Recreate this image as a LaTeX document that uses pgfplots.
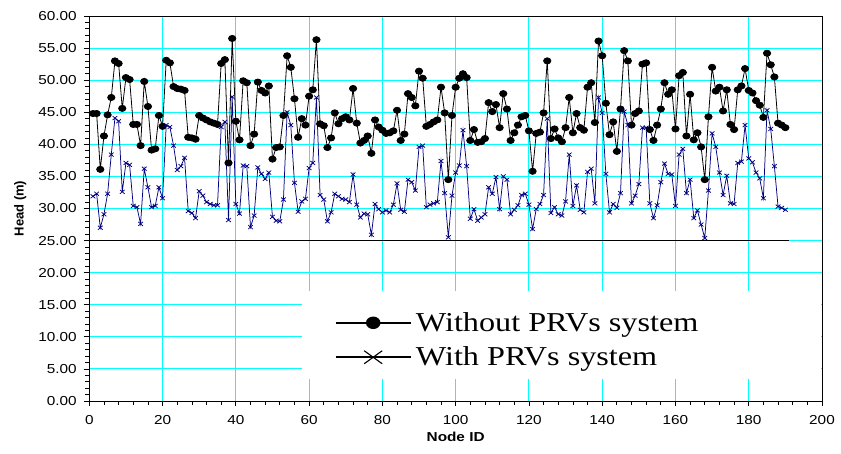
\documentclass[border=0pt]{standalone}
\usepackage{pgfplots}
\pgfplotsset{compat=1.18}
\usepackage{pgfplotstable}
\usepackage{fontspec}
\setmainfont{Liberation Sans}[FakeStretch=1.18]
\newfontfamily\ylabfont{Liberation Sans}
\newfontfamily\legfont{Liberation Serif}[FakeStretch=1.18]
\definecolor{gridc}{RGB}{0,255,255}
\definecolor{navyc}{RGB}{0,0,128}

\pgfplotstableread{
n without with
1 44.8 31.9
2 44.8 32.3
3 36.1 27.0
4 41.3 29.1
5 44.6 32.3
6 47.3 38.4
7 53.0 44.1
8 52.6 43.6
9 45.6 32.6
10 50.4 37.1
11 50.1 36.8
12 43.1 30.4
13 43.1 30.2
14 39.8 27.6
15 49.8 36.2
16 45.9 33.3
17 39.1 30.2
18 39.3 30.4
19 44.5 33.3
20 42.8 31.6
21 53.1 43.0
22 52.7 42.7
23 49.0 39.8
24 48.7 36.0
25 48.6 36.6
26 48.4 37.9
27 41.1 29.6
28 41.0 29.3
29 40.8 28.5
30 44.5 32.7
31 44.1 32.0
32 43.8 31.0
33 43.5 30.7
34 43.3 30.5
35 43.1 30.5
36 52.6 42.7
37 53.2 43.5
38 37.1 28.2
39 56.5 47.4
40 43.6 30.7
41 40.7 29.2
42 49.9 36.7
43 49.6 36.6
44 39.8 27.1
45 41.6 28.9
46 49.7 36.4
47 48.4 35.4
48 48.0 34.6
49 49.1 35.6
50 37.7 28.7
51 39.5 28.1
52 39.6 28.0
53 44.5 31.4
54 53.8 45.0
55 52.0 43.0
56 47.1 34.0
57 41.1 29.5
58 44.0 31.1
59 43.0 31.5
60 47.5 36.3
61 48.5 37.1
62 56.3 47.3
63 43.2 32.1
64 42.9 31.4
65 39.5 28.0
66 41.0 29.4
67 44.9 32.3
68 43.2 31.9
69 44.0 31.5
70 44.3 31.4
71 43.8 31.0
72 48.7 35.3
73 43.3 30.6
74 40.2 28.6
75 40.6 29.2
76 41.3 29.1
77 38.6 25.9
78 43.8 30.7
79 42.7 29.9
80 42.2 29.4
81 41.7 29.7
82 41.8 29.4
83 42.1 30.6
84 45.3 33.9
85 40.6 29.8
86 41.6 29.5
87 47.9 34.5
88 47.3 34.1
89 46.0 32.8
90 51.4 39.6
91 50.3 39.8
92 42.8 30.2
93 43.1 30.6
94 43.5 30.8
95 43.8 31.0
96 48.9 37.4
97 44.9 32.4
98 34.5 25.5
99 44.5 32.0
100 48.9 35.6
101 50.3 36.7
102 51.0 42.2
103 50.4 36.6
104 40.6 28.4
105 42.3 29.9
106 40.3 28.1
107 40.4 28.6
108 40.9 29.1
109 46.5 33.3
110 45.1 32.3
111 46.2 34.9
112 42.6 29.9
113 47.9 35.0
114 45.5 34.5
115 40.6 29.1
116 41.8 29.8
117 43.0 30.5
118 44.3 32.1
119 44.5 32.3
120 42.1 30.6
121 35.8 26.8
122 41.7 29.9
123 41.9 30.7
124 44.9 32.1
125 53.0 44.0
126 40.9 29.3
127 42.4 30.2
128 41.0 29.1
129 40.4 28.9
130 42.6 31.1
131 47.3 38.4
132 41.8 30.4
133 44.8 33.6
134 42.6 29.8
135 42.2 29.4
136 48.9 35.7
137 49.6 36.2
138 43.4 30.8
139 56.1 47.3
140 53.8 44.9
141 46.4 35.4
142 41.5 29.4
143 43.5 30.7
144 38.9 30.1
145 45.5 32.4
146 54.6 45.1
147 53.0 43.0
148 43.0 30.8
149 44.8 32.0
150 45.2 33.8
151 52.5 42.6
152 52.7 42.6
153 42.3 30.8
154 40.6 28.5
155 43.0 30.5
156 45.5 34.1
157 49.6 37.0
158 47.8 35.4
159 48.5 35.3
160 42.4 30.4
161 50.7 38.4
162 51.2 39.3
163 41.3 32.4
164 47.8 34.5
165 40.7 28.5
166 41.8 29.7
167 39.6 27.5
168 34.5 25.4
169 44.3 32.8
170 52.0 41.7
171 48.3 39.6
172 48.9 35.6
173 45.2 32.1
174 48.5 35.1
175 43.1 30.8
176 42.3 30.7
177 48.5 37.1
178 49.1 37.3
179 51.8 43.0
180 48.4 37.8
181 48.0 37.2
182 46.8 35.6
183 46.1 34.7
184 44.2 31.6
185 54.2 45.3
186 52.4 42.4
187 50.5 36.6
188 43.3 30.3
189 43.0 30.1
190 42.6 29.8
}\datatable

\begin{document}
\begin{tikzpicture}
\path (-89.3pt,-53pt) rectangle (751.7pt,401pt);
\begin{axis}[
  at={(0pt,0pt)}, anchor=south west,
  scale only axis, width=732.7pt, height=385pt,
  xmin=0, xmax=200, ymin=0, ymax=60,
  xtick={0,20,...,200}, ytick={0,5,...,60},
  minor x tick num=4, minor y tick num=4,
  tick align=outside, xtick pos=left, ytick pos=left,
  major tick length=5pt, minor tick length=4pt,
  tick style={black, line width=0.7pt},
  axis line style={black, line width=0.9pt},
  grid=major,
  major grid style={gridc, line width=0.9pt},
  /pgf/number format/assume math mode=true,
  ticklabel style={font=\fontsize{13}{15}\selectfont},
  yticklabel style={xshift=-4pt, /pgf/number format/.cd, fixed, fixed zerofill, precision=2},
  xticklabel style={yshift=-6pt, /pgf/number format/.cd, fixed, precision=0},
  every axis y label/.style={at={(axis description cs:-0.0942,0.5)}, rotate=90, anchor=center},
  every axis x label/.style={at={(axis description cs:0.5,0)}, anchor=center, yshift=-36pt},
  xlabel={\fontsize{13}{15}\selectfont\bfseries Node ID},
  ylabel={\ylabfont\fontsize{13}{15}\selectfont\bfseries Head (m)},
  legend style={at={(axis cs:67.0,14.9)}, anchor=north west, draw=none, fill=none,
    inner xsep=0pt, inner ysep=0pt,
    font=\legfont\fontsize{27.3}{30}\selectfont,
    nodes={inner ysep=7pt, inner xsep=4.5pt}},
  legend cell align=left,
]
\fill[white] (axis cs:58.0,3.4) rectangle (axis cs:199.75,17.1);
\addplot[black, line width=1.2pt, forget plot] coordinates {(0,25) (191,25)};
\addplot[black, line width=0.8pt, mark=*, mark size=3.1pt, mark options={fill=black, xscale=1.18},
  legend image code/.code={\draw[black, line width=1.5pt, mark=*, mark size=5.5pt, mark options={fill=black, xscale=1.18}, mark repeat=2, mark phase=2] plot coordinates {(0pt,0pt) (37.5pt,0pt) (75pt,0pt)};}]
  table[x=n, y=without] {\datatable};
\addlegendentry{Without PRVs system}
\addplot[navyc, line width=0.75pt, mark=x, mark size=2.8pt, mark options={xscale=1.18}, 
  legend image code/.code={\draw[black, line width=1.5pt] (0pt,0pt) -- (75pt,0pt);
    \draw[black, line width=1.1pt] (28.5pt,-6.5pt) -- (46.5pt,6.5pt) (28.5pt,6.5pt) -- (46.5pt,-6.5pt);}]
  table[x=n, y=with] {\datatable};
\addlegendentry{With PRVs system}
\end{axis}
\end{tikzpicture}
\end{document}
